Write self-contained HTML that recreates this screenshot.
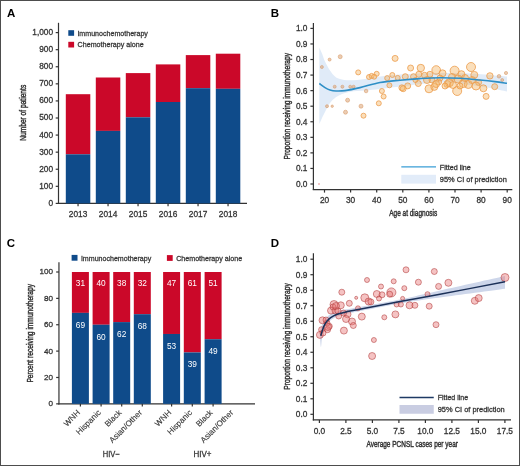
<!DOCTYPE html>
<html><head><meta charset="utf-8"><style>
html,body{margin:0;padding:0;background:#fff;overflow:hidden;}
svg{display:block;font-family:"Liberation Sans",sans-serif;will-change:transform;}
</style></head><body>
<svg width="520" height="466" viewBox="0 0 520 466">
<rect width="520" height="466" fill="#fff"/>
<rect x="0.5" y="0.5" width="519" height="465" fill="none" stroke="#4d4d4d" stroke-width="1"/>
<text x="6.9" y="16.5" font-size="11.5" font-weight="bold" fill="#000">A</text>
<text x="270.7" y="16.7" font-size="11.5" font-weight="bold" fill="#000">B</text>
<text x="6.8" y="247.4" font-size="11.5" font-weight="bold" fill="#000">C</text>
<text x="270.7" y="247.4" font-size="11.5" font-weight="bold" fill="#000">D</text>
<line x1="58.50" y1="22.80" x2="58.50" y2="204.00" stroke="#333333" stroke-width="1.2"/>
<line x1="57.90" y1="203.40" x2="247.00" y2="203.40" stroke="#333333" stroke-width="1.2"/>
<line x1="55.70" y1="203.40" x2="58.50" y2="203.40" stroke="#333333" stroke-width="1.2"/>
<text x="53.10" y="205.89" font-size="8.3" text-anchor="end" fill="#333333" stroke="#333333" stroke-width="0.28">0</text>
<line x1="55.70" y1="186.32" x2="58.50" y2="186.32" stroke="#333333" stroke-width="1.2"/>
<text x="53.10" y="188.81" font-size="8.3" text-anchor="end" fill="#333333" stroke="#333333" stroke-width="0.28">100</text>
<line x1="55.70" y1="169.24" x2="58.50" y2="169.24" stroke="#333333" stroke-width="1.2"/>
<text x="53.10" y="171.73" font-size="8.3" text-anchor="end" fill="#333333" stroke="#333333" stroke-width="0.28">200</text>
<line x1="55.70" y1="152.16" x2="58.50" y2="152.16" stroke="#333333" stroke-width="1.2"/>
<text x="53.10" y="154.65" font-size="8.3" text-anchor="end" fill="#333333" stroke="#333333" stroke-width="0.28">300</text>
<line x1="55.70" y1="135.08" x2="58.50" y2="135.08" stroke="#333333" stroke-width="1.2"/>
<text x="53.10" y="137.57" font-size="8.3" text-anchor="end" fill="#333333" stroke="#333333" stroke-width="0.28">400</text>
<line x1="55.70" y1="118.00" x2="58.50" y2="118.00" stroke="#333333" stroke-width="1.2"/>
<text x="53.10" y="120.49" font-size="8.3" text-anchor="end" fill="#333333" stroke="#333333" stroke-width="0.28">500</text>
<line x1="55.70" y1="100.92" x2="58.50" y2="100.92" stroke="#333333" stroke-width="1.2"/>
<text x="53.10" y="103.41" font-size="8.3" text-anchor="end" fill="#333333" stroke="#333333" stroke-width="0.28">600</text>
<line x1="55.70" y1="83.84" x2="58.50" y2="83.84" stroke="#333333" stroke-width="1.2"/>
<text x="53.10" y="86.33" font-size="8.3" text-anchor="end" fill="#333333" stroke="#333333" stroke-width="0.28">700</text>
<line x1="55.70" y1="66.76" x2="58.50" y2="66.76" stroke="#333333" stroke-width="1.2"/>
<text x="53.10" y="69.25" font-size="8.3" text-anchor="end" fill="#333333" stroke="#333333" stroke-width="0.28">800</text>
<line x1="55.70" y1="49.68" x2="58.50" y2="49.68" stroke="#333333" stroke-width="1.2"/>
<text x="53.10" y="52.17" font-size="8.3" text-anchor="end" fill="#333333" stroke="#333333" stroke-width="0.28">900</text>
<line x1="55.70" y1="32.60" x2="58.50" y2="32.60" stroke="#333333" stroke-width="1.2"/>
<text x="53.10" y="35.09" font-size="8.3" text-anchor="end" fill="#333333" stroke="#333333" stroke-width="0.28">1,000</text>
<rect x="65.80" y="94.20" width="24.50" height="60.10" fill="#cb0829"/>
<rect x="65.80" y="154.30" width="24.50" height="49.10" fill="#0f4b8a"/>
<line x1="78.05" y1="203.40" x2="78.05" y2="206.20" stroke="#333333" stroke-width="1.2"/>
<text x="78.05" y="216.91" font-size="8.3" text-anchor="middle" fill="#333333" stroke="#333333" stroke-width="0.28">2013</text>
<rect x="95.80" y="77.50" width="24.50" height="53.40" fill="#cb0829"/>
<rect x="95.80" y="130.90" width="24.50" height="72.50" fill="#0f4b8a"/>
<line x1="108.05" y1="203.40" x2="108.05" y2="206.20" stroke="#333333" stroke-width="1.2"/>
<text x="108.05" y="216.91" font-size="8.3" text-anchor="middle" fill="#333333" stroke="#333333" stroke-width="0.28">2014</text>
<rect x="125.80" y="73.10" width="24.50" height="44.20" fill="#cb0829"/>
<rect x="125.80" y="117.30" width="24.50" height="86.10" fill="#0f4b8a"/>
<line x1="138.05" y1="203.40" x2="138.05" y2="206.20" stroke="#333333" stroke-width="1.2"/>
<text x="138.05" y="216.91" font-size="8.3" text-anchor="middle" fill="#333333" stroke="#333333" stroke-width="0.28">2015</text>
<rect x="155.80" y="64.40" width="24.50" height="37.60" fill="#cb0829"/>
<rect x="155.80" y="102.00" width="24.50" height="101.40" fill="#0f4b8a"/>
<line x1="168.05" y1="203.40" x2="168.05" y2="206.20" stroke="#333333" stroke-width="1.2"/>
<text x="168.05" y="216.91" font-size="8.3" text-anchor="middle" fill="#333333" stroke="#333333" stroke-width="0.28">2016</text>
<rect x="185.80" y="55.10" width="24.50" height="33.10" fill="#cb0829"/>
<rect x="185.80" y="88.20" width="24.50" height="115.20" fill="#0f4b8a"/>
<line x1="198.05" y1="203.40" x2="198.05" y2="206.20" stroke="#333333" stroke-width="1.2"/>
<text x="198.05" y="216.91" font-size="8.3" text-anchor="middle" fill="#333333" stroke="#333333" stroke-width="0.28">2017</text>
<rect x="215.80" y="53.70" width="24.50" height="35.10" fill="#cb0829"/>
<rect x="215.80" y="88.80" width="24.50" height="114.60" fill="#0f4b8a"/>
<line x1="228.05" y1="203.40" x2="228.05" y2="206.20" stroke="#333333" stroke-width="1.2"/>
<text x="228.05" y="216.91" font-size="8.3" text-anchor="middle" fill="#333333" stroke="#333333" stroke-width="0.28">2018</text>
<text transform="translate(25.90,112.80) rotate(-90)" x="0" y="0" font-size="9.4" text-anchor="middle" fill="#333333" stroke="#333333" stroke-width="0.45" textLength="56" lengthAdjust="spacingAndGlyphs">Number of patients</text>
<rect x="68.30" y="30.20" width="5.80" height="5.60" fill="#0f4b8a"/>
<rect x="68.30" y="41.80" width="5.80" height="5.70" fill="#cb0829"/>
<text x="77.40" y="35.70" font-size="7.7" text-anchor="start" fill="#333333" stroke="#333333" stroke-width="0.28" textLength="70.5" lengthAdjust="spacingAndGlyphs">Immunochemotherapy</text>
<text x="77.60" y="47.00" font-size="7.7" text-anchor="start" fill="#333333" stroke="#333333" stroke-width="0.28" textLength="66" lengthAdjust="spacingAndGlyphs">Chemotherapy alone</text>
<line x1="58.95" y1="262.20" x2="58.95" y2="404.45" stroke="#333333" stroke-width="1.2"/>
<line x1="58.35" y1="403.85" x2="255.00" y2="403.85" stroke="#333333" stroke-width="1.2"/>
<line x1="56.15" y1="403.85" x2="58.95" y2="403.85" stroke="#333333" stroke-width="1.2"/>
<text x="53.00" y="406.28" font-size="8.1" text-anchor="end" fill="#333333" stroke="#333333" stroke-width="0.28">0</text>
<line x1="56.15" y1="377.48" x2="58.95" y2="377.48" stroke="#333333" stroke-width="1.2"/>
<text x="53.00" y="379.91" font-size="8.1" text-anchor="end" fill="#333333" stroke="#333333" stroke-width="0.28">20</text>
<line x1="56.15" y1="351.11" x2="58.95" y2="351.11" stroke="#333333" stroke-width="1.2"/>
<text x="53.00" y="353.54" font-size="8.1" text-anchor="end" fill="#333333" stroke="#333333" stroke-width="0.28">40</text>
<line x1="56.15" y1="324.74" x2="58.95" y2="324.74" stroke="#333333" stroke-width="1.2"/>
<text x="53.00" y="327.17" font-size="8.1" text-anchor="end" fill="#333333" stroke="#333333" stroke-width="0.28">60</text>
<line x1="56.15" y1="298.37" x2="58.95" y2="298.37" stroke="#333333" stroke-width="1.2"/>
<text x="53.00" y="300.80" font-size="8.1" text-anchor="end" fill="#333333" stroke="#333333" stroke-width="0.28">80</text>
<line x1="56.15" y1="272.00" x2="58.95" y2="272.00" stroke="#333333" stroke-width="1.2"/>
<text x="53.00" y="274.43" font-size="8.1" text-anchor="end" fill="#333333" stroke="#333333" stroke-width="0.28">100</text>
<rect x="71.90" y="272.00" width="17.00" height="40.87" fill="#cb0829"/>
<rect x="71.90" y="312.87" width="17.00" height="90.98" fill="#0f4b8a"/>
<line x1="80.40" y1="403.85" x2="80.40" y2="406.45" stroke="#333333" stroke-width="1.2"/>
<text x="80.40" y="286.27" font-size="8.3" text-anchor="middle" fill="#fff">31</text>
<text x="80.40" y="327.64" font-size="8.3" text-anchor="middle" fill="#fff">69</text>
<rect x="92.60" y="272.00" width="17.00" height="52.74" fill="#cb0829"/>
<rect x="92.60" y="324.74" width="17.00" height="79.11" fill="#0f4b8a"/>
<line x1="101.10" y1="403.85" x2="101.10" y2="406.45" stroke="#333333" stroke-width="1.2"/>
<text x="101.10" y="286.27" font-size="8.3" text-anchor="middle" fill="#fff">40</text>
<text x="101.10" y="339.51" font-size="8.3" text-anchor="middle" fill="#fff">60</text>
<rect x="113.20" y="272.00" width="17.00" height="50.10" fill="#cb0829"/>
<rect x="113.20" y="322.10" width="17.00" height="81.75" fill="#0f4b8a"/>
<line x1="121.70" y1="403.85" x2="121.70" y2="406.45" stroke="#333333" stroke-width="1.2"/>
<text x="121.70" y="286.27" font-size="8.3" text-anchor="middle" fill="#fff">38</text>
<text x="121.70" y="336.87" font-size="8.3" text-anchor="middle" fill="#fff">62</text>
<rect x="133.80" y="272.00" width="17.00" height="42.19" fill="#cb0829"/>
<rect x="133.80" y="314.19" width="17.00" height="89.66" fill="#0f4b8a"/>
<line x1="142.30" y1="403.85" x2="142.30" y2="406.45" stroke="#333333" stroke-width="1.2"/>
<text x="142.30" y="286.27" font-size="8.3" text-anchor="middle" fill="#fff">32</text>
<text x="142.30" y="328.96" font-size="8.3" text-anchor="middle" fill="#fff">68</text>
<rect x="163.10" y="272.00" width="17.00" height="61.97" fill="#cb0829"/>
<rect x="163.10" y="333.97" width="17.00" height="69.88" fill="#0f4b8a"/>
<line x1="171.60" y1="403.85" x2="171.60" y2="406.45" stroke="#333333" stroke-width="1.2"/>
<text x="171.60" y="286.27" font-size="8.3" text-anchor="middle" fill="#fff">47</text>
<text x="171.60" y="348.74" font-size="8.3" text-anchor="middle" fill="#fff">53</text>
<rect x="183.80" y="272.00" width="17.00" height="80.43" fill="#cb0829"/>
<rect x="183.80" y="352.43" width="17.00" height="51.42" fill="#0f4b8a"/>
<line x1="192.30" y1="403.85" x2="192.30" y2="406.45" stroke="#333333" stroke-width="1.2"/>
<text x="192.30" y="286.27" font-size="8.3" text-anchor="middle" fill="#fff">61</text>
<text x="192.30" y="367.20" font-size="8.3" text-anchor="middle" fill="#fff">39</text>
<rect x="204.60" y="272.00" width="17.00" height="67.24" fill="#cb0829"/>
<rect x="204.60" y="339.24" width="17.00" height="64.61" fill="#0f4b8a"/>
<line x1="213.10" y1="403.85" x2="213.10" y2="406.45" stroke="#333333" stroke-width="1.2"/>
<text x="213.10" y="286.27" font-size="8.3" text-anchor="middle" fill="#fff">51</text>
<text x="213.10" y="354.01" font-size="8.3" text-anchor="middle" fill="#fff">49</text>
<text transform="translate(80.60,413.20) rotate(-45)" x="0" y="0" font-size="8.1" text-anchor="end" fill="#333333" stroke="#333333" stroke-width="0.1">WNH</text>
<text transform="translate(101.30,413.20) rotate(-45)" x="0" y="0" font-size="8.1" text-anchor="end" fill="#333333" stroke="#333333" stroke-width="0.1">Hispanic</text>
<text transform="translate(122.00,413.20) rotate(-45)" x="0" y="0" font-size="8.1" text-anchor="end" fill="#333333" stroke="#333333" stroke-width="0.1">Black</text>
<text transform="translate(142.70,413.20) rotate(-45)" x="0" y="0" font-size="8.1" text-anchor="end" fill="#333333" stroke="#333333" stroke-width="0.1">Asian/Other</text>
<text transform="translate(171.80,413.20) rotate(-45)" x="0" y="0" font-size="8.1" text-anchor="end" fill="#333333" stroke="#333333" stroke-width="0.1">WNH</text>
<text transform="translate(192.50,413.20) rotate(-45)" x="0" y="0" font-size="8.1" text-anchor="end" fill="#333333" stroke="#333333" stroke-width="0.1">Hispanic</text>
<text transform="translate(213.20,413.20) rotate(-45)" x="0" y="0" font-size="8.1" text-anchor="end" fill="#333333" stroke="#333333" stroke-width="0.1">Black</text>
<text transform="translate(233.90,413.20) rotate(-45)" x="0" y="0" font-size="8.1" text-anchor="end" fill="#333333" stroke="#333333" stroke-width="0.1">Asian/Other</text>
<text x="111.30" y="457.10" font-size="8.5" text-anchor="middle" fill="#333333" stroke="#333333" stroke-width="0.28" textLength="17" lengthAdjust="spacingAndGlyphs">HIV−</text>
<text x="202.50" y="457.10" font-size="8.5" text-anchor="middle" fill="#333333" stroke="#333333" stroke-width="0.28" textLength="18" lengthAdjust="spacingAndGlyphs">HIV+</text>
<text transform="translate(32.60,333.30) rotate(-90)" x="0" y="0" font-size="9.4" text-anchor="middle" fill="#333333" stroke="#333333" stroke-width="0.45" textLength="98.6" lengthAdjust="spacingAndGlyphs">Percent receiving immunotherapy</text>
<rect x="71.60" y="254.90" width="5.90" height="5.80" fill="#0f4b8a"/>
<rect x="166.90" y="255.10" width="5.80" height="5.80" fill="#cb0829"/>
<text x="80.90" y="260.50" font-size="7.7" text-anchor="start" fill="#333333" stroke="#333333" stroke-width="0.28" textLength="70.4" lengthAdjust="spacingAndGlyphs">Immunochemotherapy</text>
<text x="176.20" y="260.50" font-size="7.7" text-anchor="start" fill="#333333" stroke="#333333" stroke-width="0.28" textLength="66" lengthAdjust="spacingAndGlyphs">Chemotherapy alone</text>
<path d="M319.30,47.50 C319.75,48.50 321.05,51.17 322.00,53.50 C322.95,55.83 323.67,58.67 325.00,61.50 C326.33,64.33 328.33,68.00 330.00,70.50 C331.67,73.00 333.33,75.08 335.00,76.50 C336.67,77.92 337.50,78.37 340.00,79.00 C342.50,79.63 345.83,80.30 350.00,80.30 C354.17,80.30 360.00,79.63 365.00,79.00 C370.00,78.37 374.17,77.25 380.00,76.50 C385.83,75.75 390.00,75.08 400.00,74.50 C410.00,73.92 428.33,73.17 440.00,73.00 C451.67,72.83 461.67,73.17 470.00,73.50 C478.33,73.83 483.83,74.50 490.00,75.00 C496.17,75.50 504.17,76.25 507.00,76.50 L507.00,91.50 C504.17,90.92 496.17,89.08 490.00,88.00 C483.83,86.92 478.33,85.92 470.00,85.00 C461.67,84.08 451.67,82.25 440.00,82.50 C428.33,82.75 410.00,85.42 400.00,86.50 C390.00,87.58 385.83,88.33 380.00,89.00 C374.17,89.67 370.00,90.03 365.00,90.50 C360.00,90.97 354.17,91.05 350.00,91.80 C345.83,92.55 342.50,93.97 340.00,95.00 C337.50,96.03 336.67,96.67 335.00,98.00 C333.33,99.33 331.67,100.67 330.00,103.00 C328.33,105.33 326.33,109.50 325.00,112.00 C323.67,114.50 322.95,116.00 322.00,118.00 C321.05,120.00 319.75,123.00 319.30,124.00 Z" fill="#e0ebf8"/>
<line x1="313.40" y1="22.90" x2="313.40" y2="190.10" stroke="#333333" stroke-width="1.2"/>
<line x1="312.80" y1="189.60" x2="512.30" y2="189.60" stroke="#333333" stroke-width="1.2"/>
<line x1="310.40" y1="184.00" x2="313.40" y2="184.00" stroke="#333333" stroke-width="1.2"/>
<text x="307.50" y="186.91" font-size="8.3" text-anchor="end" fill="#333333" stroke="#333333" stroke-width="0.28">0.0</text>
<line x1="310.40" y1="168.44" x2="313.40" y2="168.44" stroke="#333333" stroke-width="1.2"/>
<text x="307.50" y="171.34" font-size="8.3" text-anchor="end" fill="#333333" stroke="#333333" stroke-width="0.28">0.1</text>
<line x1="310.40" y1="152.88" x2="313.40" y2="152.88" stroke="#333333" stroke-width="1.2"/>
<text x="307.50" y="155.78" font-size="8.3" text-anchor="end" fill="#333333" stroke="#333333" stroke-width="0.28">0.2</text>
<line x1="310.40" y1="137.32" x2="313.40" y2="137.32" stroke="#333333" stroke-width="1.2"/>
<text x="307.50" y="140.22" font-size="8.3" text-anchor="end" fill="#333333" stroke="#333333" stroke-width="0.28">0.3</text>
<line x1="310.40" y1="121.76" x2="313.40" y2="121.76" stroke="#333333" stroke-width="1.2"/>
<text x="307.50" y="124.67" font-size="8.3" text-anchor="end" fill="#333333" stroke="#333333" stroke-width="0.28">0.4</text>
<line x1="310.40" y1="106.20" x2="313.40" y2="106.20" stroke="#333333" stroke-width="1.2"/>
<text x="307.50" y="109.11" font-size="8.3" text-anchor="end" fill="#333333" stroke="#333333" stroke-width="0.28">0.5</text>
<line x1="310.40" y1="90.64" x2="313.40" y2="90.64" stroke="#333333" stroke-width="1.2"/>
<text x="307.50" y="93.55" font-size="8.3" text-anchor="end" fill="#333333" stroke="#333333" stroke-width="0.28">0.6</text>
<line x1="310.40" y1="75.08" x2="313.40" y2="75.08" stroke="#333333" stroke-width="1.2"/>
<text x="307.50" y="77.98" font-size="8.3" text-anchor="end" fill="#333333" stroke="#333333" stroke-width="0.28">0.7</text>
<line x1="310.40" y1="59.52" x2="313.40" y2="59.52" stroke="#333333" stroke-width="1.2"/>
<text x="307.50" y="62.43" font-size="8.3" text-anchor="end" fill="#333333" stroke="#333333" stroke-width="0.28">0.8</text>
<line x1="310.40" y1="43.96" x2="313.40" y2="43.96" stroke="#333333" stroke-width="1.2"/>
<text x="307.50" y="46.87" font-size="8.3" text-anchor="end" fill="#333333" stroke="#333333" stroke-width="0.28">0.9</text>
<line x1="310.40" y1="28.40" x2="313.40" y2="28.40" stroke="#333333" stroke-width="1.2"/>
<text x="307.50" y="31.31" font-size="8.3" text-anchor="end" fill="#333333" stroke="#333333" stroke-width="0.28">1.0</text>
<line x1="324.50" y1="189.60" x2="324.50" y2="192.60" stroke="#333333" stroke-width="1.2"/>
<text x="324.50" y="202.91" font-size="8.3" text-anchor="middle" fill="#333333" stroke="#333333" stroke-width="0.28">20</text>
<line x1="350.60" y1="189.60" x2="350.60" y2="192.60" stroke="#333333" stroke-width="1.2"/>
<text x="350.60" y="202.91" font-size="8.3" text-anchor="middle" fill="#333333" stroke="#333333" stroke-width="0.28">30</text>
<line x1="376.70" y1="189.60" x2="376.70" y2="192.60" stroke="#333333" stroke-width="1.2"/>
<text x="376.70" y="202.91" font-size="8.3" text-anchor="middle" fill="#333333" stroke="#333333" stroke-width="0.28">40</text>
<line x1="402.80" y1="189.60" x2="402.80" y2="192.60" stroke="#333333" stroke-width="1.2"/>
<text x="402.80" y="202.91" font-size="8.3" text-anchor="middle" fill="#333333" stroke="#333333" stroke-width="0.28">50</text>
<line x1="428.90" y1="189.60" x2="428.90" y2="192.60" stroke="#333333" stroke-width="1.2"/>
<text x="428.90" y="202.91" font-size="8.3" text-anchor="middle" fill="#333333" stroke="#333333" stroke-width="0.28">60</text>
<line x1="455.00" y1="189.60" x2="455.00" y2="192.60" stroke="#333333" stroke-width="1.2"/>
<text x="455.00" y="202.91" font-size="8.3" text-anchor="middle" fill="#333333" stroke="#333333" stroke-width="0.28">70</text>
<line x1="481.10" y1="189.60" x2="481.10" y2="192.60" stroke="#333333" stroke-width="1.2"/>
<text x="481.10" y="202.91" font-size="8.3" text-anchor="middle" fill="#333333" stroke="#333333" stroke-width="0.28">80</text>
<line x1="507.20" y1="189.60" x2="507.20" y2="192.60" stroke="#333333" stroke-width="1.2"/>
<text x="507.20" y="202.91" font-size="8.3" text-anchor="middle" fill="#333333" stroke="#333333" stroke-width="0.28">90</text>
<text transform="translate(290.10,106.20) rotate(-90)" x="0" y="0" font-size="9.4" text-anchor="middle" fill="#333333" stroke="#333333" stroke-width="0.45" textLength="106.5" lengthAdjust="spacingAndGlyphs">Proportion receiving immunotherapy</text>
<text x="413.20" y="216.20" font-size="9.4" text-anchor="middle" fill="#333333" stroke="#333333" stroke-width="0.45" textLength="48" lengthAdjust="spacingAndGlyphs">Age at diagnosis</text>
<line x1="401.30" y1="166.90" x2="436.00" y2="166.90" stroke="#3a9ed6" stroke-width="1.3"/>
<rect x="401.30" y="174.80" width="34.70" height="8.80" fill="#e2ecf9"/>
<text x="439.80" y="169.70" font-size="7.5" text-anchor="start" fill="#333333" stroke="#333333" stroke-width="0.28" textLength="31" lengthAdjust="spacingAndGlyphs">Fitted line</text>
<text x="439.80" y="181.60" font-size="7.5" text-anchor="start" fill="#333333" stroke="#333333" stroke-width="0.28" textLength="67" lengthAdjust="spacingAndGlyphs">95% CI of prediction</text>
<circle cx="321.9" cy="67" r="1.5" fill="rgba(215,155,105,0.5)" stroke="rgba(215,150,95,0.75)" stroke-width="0.7"/>
<circle cx="329.6" cy="59.6" r="1.5" fill="rgba(215,155,105,0.5)" stroke="rgba(215,150,95,0.75)" stroke-width="0.7"/>
<circle cx="340.2" cy="56.7" r="2" fill="rgba(215,155,105,0.5)" stroke="rgba(215,150,95,0.75)" stroke-width="0.7"/>
<circle cx="358.2" cy="72.4" r="2.5" fill="rgba(244,178,95,0.42)" stroke="rgba(236,156,76,0.88)" stroke-width="0.9"/>
<circle cx="369" cy="77" r="2.5" fill="rgba(244,178,95,0.42)" stroke="rgba(236,156,76,0.88)" stroke-width="0.9"/>
<circle cx="371.6" cy="75.9" r="2.5" fill="rgba(244,178,95,0.42)" stroke="rgba(236,156,76,0.88)" stroke-width="0.9"/>
<circle cx="374.2" cy="76.7" r="2.5" fill="rgba(244,178,95,0.42)" stroke="rgba(236,156,76,0.88)" stroke-width="0.9"/>
<circle cx="376.7" cy="73.8" r="2.5" fill="rgba(244,178,95,0.42)" stroke="rgba(236,156,76,0.88)" stroke-width="0.9"/>
<circle cx="334.7" cy="86.7" r="1.5" fill="rgba(215,155,105,0.5)" stroke="rgba(215,150,95,0.75)" stroke-width="0.7"/>
<circle cx="342.4" cy="86.7" r="1.5" fill="rgba(215,155,105,0.5)" stroke="rgba(215,150,95,0.75)" stroke-width="0.7"/>
<circle cx="350.2" cy="86.7" r="1.5" fill="rgba(215,155,105,0.5)" stroke="rgba(215,150,95,0.75)" stroke-width="0.7"/>
<circle cx="353.6" cy="86.7" r="1.5" fill="rgba(215,155,105,0.5)" stroke="rgba(215,150,95,0.75)" stroke-width="0.7"/>
<circle cx="366.1" cy="91" r="1.8" fill="rgba(215,155,105,0.5)" stroke="rgba(215,150,95,0.75)" stroke-width="0.7"/>
<circle cx="381.9" cy="91" r="2.5" fill="rgba(244,178,95,0.42)" stroke="rgba(236,156,76,0.88)" stroke-width="0.9"/>
<circle cx="383.6" cy="96.5" r="2.5" fill="rgba(244,178,95,0.42)" stroke="rgba(236,156,76,0.88)" stroke-width="0.9"/>
<circle cx="347.6" cy="100.2" r="2" fill="rgba(215,155,105,0.5)" stroke="rgba(215,150,95,0.75)" stroke-width="0.7"/>
<circle cx="361" cy="106.2" r="2" fill="rgba(215,155,105,0.5)" stroke="rgba(215,150,95,0.75)" stroke-width="0.7"/>
<circle cx="327" cy="106.2" r="1.5" fill="rgba(215,155,105,0.5)" stroke="rgba(215,150,95,0.75)" stroke-width="0.7"/>
<circle cx="332.2" cy="106.2" r="1.2" fill="rgba(215,155,105,0.5)" stroke="rgba(215,150,95,0.75)" stroke-width="0.7"/>
<circle cx="378.8" cy="103.3" r="2.5" fill="rgba(244,178,95,0.42)" stroke="rgba(236,156,76,0.88)" stroke-width="0.9"/>
<circle cx="345.5" cy="112.2" r="2" fill="rgba(215,155,105,0.5)" stroke="rgba(215,150,95,0.75)" stroke-width="0.7"/>
<circle cx="363.5" cy="115.7" r="2.5" fill="rgba(244,178,95,0.42)" stroke="rgba(236,156,76,0.88)" stroke-width="0.9"/>
<circle cx="395.1" cy="58.4" r="3" fill="rgba(244,178,95,0.42)" stroke="rgba(236,156,76,0.88)" stroke-width="0.9"/>
<circle cx="410.6" cy="68" r="3" fill="rgba(244,178,95,0.42)" stroke="rgba(236,156,76,0.88)" stroke-width="0.9"/>
<circle cx="420.8" cy="68" r="3.7" fill="rgba(244,178,95,0.42)" stroke="rgba(236,156,76,0.88)" stroke-width="0.9"/>
<circle cx="436.2" cy="70" r="4.3" fill="rgba(244,178,95,0.42)" stroke="rgba(236,156,76,0.88)" stroke-width="0.9"/>
<circle cx="387.2" cy="78.1" r="2.5" fill="rgba(244,178,95,0.42)" stroke="rgba(236,156,76,0.88)" stroke-width="0.9"/>
<circle cx="392.3" cy="75" r="2.5" fill="rgba(244,178,95,0.42)" stroke="rgba(236,156,76,0.88)" stroke-width="0.9"/>
<circle cx="397.7" cy="77.9" r="2.5" fill="rgba(244,178,95,0.42)" stroke="rgba(236,156,76,0.88)" stroke-width="0.9"/>
<circle cx="405.3" cy="76.7" r="3" fill="rgba(244,178,95,0.42)" stroke="rgba(236,156,76,0.88)" stroke-width="0.9"/>
<circle cx="413.5" cy="76.7" r="3" fill="rgba(244,178,95,0.42)" stroke="rgba(236,156,76,0.88)" stroke-width="0.9"/>
<circle cx="418.8" cy="74.3" r="3" fill="rgba(244,178,95,0.42)" stroke="rgba(236,156,76,0.88)" stroke-width="0.9"/>
<circle cx="424.6" cy="75.3" r="3" fill="rgba(244,178,95,0.42)" stroke="rgba(236,156,76,0.88)" stroke-width="0.9"/>
<circle cx="429.9" cy="74.3" r="3" fill="rgba(244,178,95,0.42)" stroke="rgba(236,156,76,0.88)" stroke-width="0.9"/>
<circle cx="442.5" cy="73.3" r="3.5" fill="rgba(244,178,95,0.42)" stroke="rgba(236,156,76,0.88)" stroke-width="0.9"/>
<circle cx="418.3" cy="83.5" r="3" fill="rgba(244,178,95,0.42)" stroke="rgba(236,156,76,0.88)" stroke-width="0.9"/>
<circle cx="407.7" cy="85.9" r="3" fill="rgba(244,178,95,0.42)" stroke="rgba(236,156,76,0.88)" stroke-width="0.9"/>
<circle cx="401.9" cy="87.8" r="3" fill="rgba(244,178,95,0.42)" stroke="rgba(236,156,76,0.88)" stroke-width="0.9"/>
<circle cx="429" cy="88.8" r="4" fill="rgba(244,178,95,0.42)" stroke="rgba(236,156,76,0.88)" stroke-width="0.9"/>
<circle cx="434.3" cy="86.9" r="3.5" fill="rgba(244,178,95,0.42)" stroke="rgba(236,156,76,0.88)" stroke-width="0.9"/>
<circle cx="438.6" cy="82" r="3" fill="rgba(244,178,95,0.42)" stroke="rgba(236,156,76,0.88)" stroke-width="0.9"/>
<circle cx="447.3" cy="84" r="3.5" fill="rgba(244,178,95,0.42)" stroke="rgba(236,156,76,0.88)" stroke-width="0.9"/>
<circle cx="415.4" cy="80" r="2.5" fill="rgba(244,178,95,0.42)" stroke="rgba(236,156,76,0.88)" stroke-width="0.9"/>
<circle cx="389.4" cy="85.3" r="2.5" fill="rgba(244,178,95,0.42)" stroke="rgba(236,156,76,0.88)" stroke-width="0.9"/>
<circle cx="403.2" cy="88.7" r="3" fill="rgba(244,178,95,0.42)" stroke="rgba(236,156,76,0.88)" stroke-width="0.9"/>
<circle cx="471" cy="67" r="4.5" fill="rgba(244,178,95,0.42)" stroke="rgba(236,156,76,0.88)" stroke-width="0.9"/>
<circle cx="454.6" cy="70.7" r="4.5" fill="rgba(244,178,95,0.42)" stroke="rgba(236,156,76,0.88)" stroke-width="0.9"/>
<circle cx="461.4" cy="74.2" r="3.5" fill="rgba(244,178,95,0.42)" stroke="rgba(236,156,76,0.88)" stroke-width="0.9"/>
<circle cx="474.3" cy="74.9" r="3.5" fill="rgba(244,178,95,0.42)" stroke="rgba(236,156,76,0.88)" stroke-width="0.9"/>
<circle cx="449.4" cy="82.7" r="4" fill="rgba(244,178,95,0.42)" stroke="rgba(236,156,76,0.88)" stroke-width="0.9"/>
<circle cx="457.2" cy="91" r="4.5" fill="rgba(244,178,95,0.42)" stroke="rgba(236,156,76,0.88)" stroke-width="0.9"/>
<circle cx="463.2" cy="83.6" r="4" fill="rgba(244,178,95,0.42)" stroke="rgba(236,156,76,0.88)" stroke-width="0.9"/>
<circle cx="468.3" cy="84.5" r="4" fill="rgba(244,178,95,0.42)" stroke="rgba(236,156,76,0.88)" stroke-width="0.9"/>
<circle cx="478.6" cy="82.4" r="3" fill="rgba(244,178,95,0.42)" stroke="rgba(236,156,76,0.88)" stroke-width="0.9"/>
<circle cx="483.4" cy="88.3" r="3.5" fill="rgba(244,178,95,0.42)" stroke="rgba(236,156,76,0.88)" stroke-width="0.9"/>
<circle cx="486.1" cy="96.4" r="3" fill="rgba(244,178,95,0.42)" stroke="rgba(236,156,76,0.88)" stroke-width="0.9"/>
<circle cx="489.9" cy="75.9" r="3.2" fill="rgba(244,178,95,0.42)" stroke="rgba(236,156,76,0.88)" stroke-width="0.9"/>
<circle cx="494.7" cy="86.7" r="3" fill="rgba(244,178,95,0.42)" stroke="rgba(236,156,76,0.88)" stroke-width="0.9"/>
<circle cx="499" cy="76.3" r="1.8" fill="rgba(215,155,105,0.5)" stroke="rgba(215,150,95,0.75)" stroke-width="0.7"/>
<circle cx="502.2" cy="80" r="1.5" fill="rgba(215,155,105,0.5)" stroke="rgba(215,150,95,0.75)" stroke-width="0.7"/>
<circle cx="506" cy="73" r="1.6" fill="rgba(215,155,105,0.5)" stroke="rgba(215,150,95,0.75)" stroke-width="0.7"/>
<circle cx="427" cy="80" r="3.5" fill="rgba(244,178,95,0.42)" stroke="rgba(236,156,76,0.88)" stroke-width="0.9"/>
<circle cx="440" cy="78" r="3" fill="rgba(244,178,95,0.42)" stroke="rgba(236,156,76,0.88)" stroke-width="0.9"/>
<circle cx="452" cy="77" r="3.5" fill="rgba(244,178,95,0.42)" stroke="rgba(236,156,76,0.88)" stroke-width="0.9"/>
<circle cx="458" cy="79" r="4" fill="rgba(244,178,95,0.42)" stroke="rgba(236,156,76,0.88)" stroke-width="0.9"/>
<circle cx="465" cy="78" r="3.5" fill="rgba(244,178,95,0.42)" stroke="rgba(236,156,76,0.88)" stroke-width="0.9"/>
<circle cx="472" cy="80" r="3.5" fill="rgba(244,178,95,0.42)" stroke="rgba(236,156,76,0.88)" stroke-width="0.9"/>
<circle cx="445" cy="86" r="3" fill="rgba(244,178,95,0.42)" stroke="rgba(236,156,76,0.88)" stroke-width="0.9"/>
<circle cx="460" cy="86" r="3" fill="rgba(244,178,95,0.42)" stroke="rgba(236,156,76,0.88)" stroke-width="0.9"/>
<circle cx="432" cy="80" r="3" fill="rgba(244,178,95,0.42)" stroke="rgba(236,156,76,0.88)" stroke-width="0.9"/>
<circle cx="476" cy="86" r="4" fill="rgba(244,178,95,0.42)" stroke="rgba(236,156,76,0.88)" stroke-width="0.9"/>
<circle cx="453" cy="85" r="3.5" fill="rgba(244,178,95,0.42)" stroke="rgba(236,156,76,0.88)" stroke-width="0.9"/>
<circle cx="436" cy="84" r="3.5" fill="rgba(244,178,95,0.42)" stroke="rgba(236,156,76,0.88)" stroke-width="0.9"/>
<circle cx="319" cy="184" r="0.8" fill="#e08080"/>
<path d="M319.30,83.50 C320.25,84.18 323.22,86.52 325.00,87.60 C326.78,88.68 328.17,89.43 330.00,90.00 C331.83,90.57 333.50,90.90 336.00,91.00 C338.50,91.10 341.00,91.17 345.00,90.60 C349.00,90.03 354.17,88.95 360.00,87.60 C365.83,86.25 373.33,83.73 380.00,82.50 C386.67,81.27 393.33,80.85 400.00,80.20 C406.67,79.55 413.33,79.02 420.00,78.60 C426.67,78.18 433.33,77.75 440.00,77.70 C446.67,77.65 453.33,77.92 460.00,78.30 C466.67,78.68 474.17,79.45 480.00,80.00 C485.83,80.55 490.50,81.05 495.00,81.60 C499.50,82.15 505.00,83.02 507.00,83.30" fill="none" stroke="#2e8fc6" stroke-width="1.6"/>
<path d="M320.50,330.00 C320.75,329.17 321.33,326.67 322.00,325.00 C322.67,323.33 323.58,321.42 324.50,320.00 C325.42,318.58 326.42,317.50 327.50,316.50 C328.58,315.50 329.42,314.83 331.00,314.00 C332.58,313.17 334.83,312.20 337.00,311.50 C339.17,310.80 341.33,310.35 344.00,309.80 C346.67,309.25 343.67,309.92 353.00,308.20 C362.33,306.48 385.50,302.45 400.00,299.50 C414.50,296.55 422.50,294.42 440.00,290.50 C457.50,286.58 494.17,278.42 505.00,276.00 L505.00,288.80 C494.17,290.27 457.50,295.15 440.00,297.60 C422.50,300.05 414.50,301.02 400.00,303.50 C385.50,305.98 362.33,310.67 353.00,312.50 C343.67,314.33 346.67,313.83 344.00,314.50 C341.33,315.17 339.17,315.58 337.00,316.50 C334.83,317.42 332.67,318.75 331.00,320.00 C329.33,321.25 328.17,322.33 327.00,324.00 C325.83,325.67 324.83,327.67 324.00,330.00 C323.17,332.33 322.50,335.17 322.00,338.00 C321.50,340.83 321.30,346.67 321.00,347.00 C320.70,347.33 320.33,341.17 320.20,340.00 Z" fill="#cdd6ea"/>
<line x1="313.40" y1="253.20" x2="313.40" y2="420.40" stroke="#333333" stroke-width="1.2"/>
<line x1="312.80" y1="419.90" x2="511.00" y2="419.90" stroke="#333333" stroke-width="1.2"/>
<line x1="310.40" y1="414.30" x2="313.40" y2="414.30" stroke="#333333" stroke-width="1.2"/>
<text x="307.40" y="417.20" font-size="8.3" text-anchor="end" fill="#333333" stroke="#333333" stroke-width="0.28">0.0</text>
<line x1="310.40" y1="398.79" x2="313.40" y2="398.79" stroke="#333333" stroke-width="1.2"/>
<text x="307.40" y="401.69" font-size="8.3" text-anchor="end" fill="#333333" stroke="#333333" stroke-width="0.28">0.1</text>
<line x1="310.40" y1="383.28" x2="313.40" y2="383.28" stroke="#333333" stroke-width="1.2"/>
<text x="307.40" y="386.19" font-size="8.3" text-anchor="end" fill="#333333" stroke="#333333" stroke-width="0.28">0.2</text>
<line x1="310.40" y1="367.77" x2="313.40" y2="367.77" stroke="#333333" stroke-width="1.2"/>
<text x="307.40" y="370.68" font-size="8.3" text-anchor="end" fill="#333333" stroke="#333333" stroke-width="0.28">0.3</text>
<line x1="310.40" y1="352.26" x2="313.40" y2="352.26" stroke="#333333" stroke-width="1.2"/>
<text x="307.40" y="355.16" font-size="8.3" text-anchor="end" fill="#333333" stroke="#333333" stroke-width="0.28">0.4</text>
<line x1="310.40" y1="336.75" x2="313.40" y2="336.75" stroke="#333333" stroke-width="1.2"/>
<text x="307.40" y="339.65" font-size="8.3" text-anchor="end" fill="#333333" stroke="#333333" stroke-width="0.28">0.5</text>
<line x1="310.40" y1="321.24" x2="313.40" y2="321.24" stroke="#333333" stroke-width="1.2"/>
<text x="307.40" y="324.14" font-size="8.3" text-anchor="end" fill="#333333" stroke="#333333" stroke-width="0.28">0.6</text>
<line x1="310.40" y1="305.73" x2="313.40" y2="305.73" stroke="#333333" stroke-width="1.2"/>
<text x="307.40" y="308.63" font-size="8.3" text-anchor="end" fill="#333333" stroke="#333333" stroke-width="0.28">0.7</text>
<line x1="310.40" y1="290.22" x2="313.40" y2="290.22" stroke="#333333" stroke-width="1.2"/>
<text x="307.40" y="293.12" font-size="8.3" text-anchor="end" fill="#333333" stroke="#333333" stroke-width="0.28">0.8</text>
<line x1="310.40" y1="274.71" x2="313.40" y2="274.71" stroke="#333333" stroke-width="1.2"/>
<text x="307.40" y="277.62" font-size="8.3" text-anchor="end" fill="#333333" stroke="#333333" stroke-width="0.28">0.9</text>
<line x1="310.40" y1="259.20" x2="313.40" y2="259.20" stroke="#333333" stroke-width="1.2"/>
<text x="307.40" y="262.11" font-size="8.3" text-anchor="end" fill="#333333" stroke="#333333" stroke-width="0.28">1.0</text>
<line x1="319.40" y1="419.90" x2="319.40" y2="422.90" stroke="#333333" stroke-width="1.2"/>
<text x="319.40" y="433.90" font-size="8.3" text-anchor="middle" fill="#333333" stroke="#333333" stroke-width="0.28">0.0</text>
<line x1="345.90" y1="419.90" x2="345.90" y2="422.90" stroke="#333333" stroke-width="1.2"/>
<text x="345.90" y="433.90" font-size="8.3" text-anchor="middle" fill="#333333" stroke="#333333" stroke-width="0.28">2.5</text>
<line x1="372.40" y1="419.90" x2="372.40" y2="422.90" stroke="#333333" stroke-width="1.2"/>
<text x="372.40" y="433.90" font-size="8.3" text-anchor="middle" fill="#333333" stroke="#333333" stroke-width="0.28">5.0</text>
<line x1="398.90" y1="419.90" x2="398.90" y2="422.90" stroke="#333333" stroke-width="1.2"/>
<text x="398.90" y="433.90" font-size="8.3" text-anchor="middle" fill="#333333" stroke="#333333" stroke-width="0.28">7.5</text>
<line x1="425.40" y1="419.90" x2="425.40" y2="422.90" stroke="#333333" stroke-width="1.2"/>
<text x="425.40" y="433.90" font-size="8.3" text-anchor="middle" fill="#333333" stroke="#333333" stroke-width="0.28">10.0</text>
<line x1="451.90" y1="419.90" x2="451.90" y2="422.90" stroke="#333333" stroke-width="1.2"/>
<text x="451.90" y="433.90" font-size="8.3" text-anchor="middle" fill="#333333" stroke="#333333" stroke-width="0.28">12.5</text>
<line x1="478.40" y1="419.90" x2="478.40" y2="422.90" stroke="#333333" stroke-width="1.2"/>
<text x="478.40" y="433.90" font-size="8.3" text-anchor="middle" fill="#333333" stroke="#333333" stroke-width="0.28">15.0</text>
<line x1="504.90" y1="419.90" x2="504.90" y2="422.90" stroke="#333333" stroke-width="1.2"/>
<text x="504.90" y="433.90" font-size="8.3" text-anchor="middle" fill="#333333" stroke="#333333" stroke-width="0.28">17.5</text>
<text transform="translate(290.10,336.50) rotate(-90)" x="0" y="0" font-size="9.4" text-anchor="middle" fill="#333333" stroke="#333333" stroke-width="0.45" textLength="106.5" lengthAdjust="spacingAndGlyphs">Proportion receiving immunotherapy</text>
<text x="412.20" y="446.50" font-size="9.4" text-anchor="middle" fill="#333333" stroke="#333333" stroke-width="0.45" textLength="91.5" lengthAdjust="spacingAndGlyphs">Average PCNSL cases per year</text>
<line x1="399.50" y1="397.50" x2="433.75" y2="397.50" stroke="#1e3a64" stroke-width="1.6"/>
<rect x="399.50" y="405.00" width="34.25" height="8.75" fill="#c9cde2"/>
<text x="437.70" y="400.00" font-size="7.5" text-anchor="start" fill="#333333" stroke="#333333" stroke-width="0.28" textLength="30.5" lengthAdjust="spacingAndGlyphs">Fitted line</text>
<text x="437.70" y="412.00" font-size="7.5" text-anchor="start" fill="#333333" stroke="#333333" stroke-width="0.28" textLength="67" lengthAdjust="spacingAndGlyphs">95% CI of prediction</text>
<circle cx="367" cy="280" r="2.5" fill="rgba(232,122,122,0.45)" stroke="rgba(175,55,55,0.6)" stroke-width="0.9"/>
<circle cx="381" cy="286.5" r="2.5" fill="rgba(232,122,122,0.45)" stroke="rgba(175,55,55,0.6)" stroke-width="0.9"/>
<circle cx="341.8" cy="292.2" r="3" fill="rgba(232,122,122,0.45)" stroke="rgba(175,55,55,0.6)" stroke-width="0.9"/>
<circle cx="356.2" cy="297.8" r="1.5" fill="rgba(232,122,122,0.45)" stroke="rgba(175,55,55,0.6)" stroke-width="0.9"/>
<circle cx="364.8" cy="297.8" r="4" fill="rgba(232,122,122,0.45)" stroke="rgba(175,55,55,0.6)" stroke-width="0.9"/>
<circle cx="368.6" cy="301.5" r="3.5" fill="rgba(232,122,122,0.45)" stroke="rgba(175,55,55,0.6)" stroke-width="0.9"/>
<circle cx="376.8" cy="294" r="3.5" fill="rgba(232,122,122,0.45)" stroke="rgba(175,55,55,0.6)" stroke-width="0.9"/>
<circle cx="382" cy="294.8" r="3" fill="rgba(232,122,122,0.45)" stroke="rgba(175,55,55,0.6)" stroke-width="0.9"/>
<circle cx="379" cy="298.5" r="2.5" fill="rgba(232,122,122,0.45)" stroke="rgba(175,55,55,0.6)" stroke-width="0.9"/>
<circle cx="349.3" cy="303.3" r="3" fill="rgba(232,122,122,0.45)" stroke="rgba(175,55,55,0.6)" stroke-width="0.9"/>
<circle cx="334" cy="304.5" r="4" fill="rgba(232,122,122,0.45)" stroke="rgba(175,55,55,0.6)" stroke-width="0.9"/>
<circle cx="340.8" cy="305.3" r="3.5" fill="rgba(232,122,122,0.45)" stroke="rgba(175,55,55,0.6)" stroke-width="0.9"/>
<circle cx="331" cy="310.6" r="3.5" fill="rgba(232,122,122,0.45)" stroke="rgba(175,55,55,0.6)" stroke-width="0.9"/>
<circle cx="335.5" cy="310.6" r="3.5" fill="rgba(232,122,122,0.45)" stroke="rgba(175,55,55,0.6)" stroke-width="0.9"/>
<circle cx="347.5" cy="314.3" r="3.5" fill="rgba(232,122,122,0.45)" stroke="rgba(175,55,55,0.6)" stroke-width="0.9"/>
<circle cx="358" cy="308.3" r="2.5" fill="rgba(232,122,122,0.45)" stroke="rgba(175,55,55,0.6)" stroke-width="0.9"/>
<circle cx="361.8" cy="316.6" r="3.5" fill="rgba(232,122,122,0.45)" stroke="rgba(175,55,55,0.6)" stroke-width="0.9"/>
<circle cx="322.5" cy="320.3" r="3.5" fill="rgba(232,122,122,0.45)" stroke="rgba(175,55,55,0.6)" stroke-width="0.9"/>
<circle cx="352" cy="321.5" r="3.5" fill="rgba(232,122,122,0.45)" stroke="rgba(175,55,55,0.6)" stroke-width="0.9"/>
<circle cx="353.3" cy="325.5" r="3" fill="rgba(232,122,122,0.45)" stroke="rgba(175,55,55,0.6)" stroke-width="0.9"/>
<circle cx="338.7" cy="316" r="3" fill="rgba(232,122,122,0.45)" stroke="rgba(175,55,55,0.6)" stroke-width="0.9"/>
<circle cx="329.3" cy="326.3" r="3" fill="rgba(232,122,122,0.45)" stroke="rgba(175,55,55,0.6)" stroke-width="0.9"/>
<circle cx="327.6" cy="329.7" r="3" fill="rgba(232,122,122,0.45)" stroke="rgba(175,55,55,0.6)" stroke-width="0.9"/>
<circle cx="321.6" cy="329.7" r="3" fill="rgba(232,122,122,0.45)" stroke="rgba(175,55,55,0.6)" stroke-width="0.9"/>
<circle cx="319.9" cy="334.9" r="3.5" fill="rgba(232,122,122,0.45)" stroke="rgba(175,55,55,0.6)" stroke-width="0.9"/>
<circle cx="343.9" cy="330.6" r="3.5" fill="rgba(232,122,122,0.45)" stroke="rgba(175,55,55,0.6)" stroke-width="0.9"/>
<circle cx="373.9" cy="340" r="2.5" fill="rgba(232,122,122,0.45)" stroke="rgba(175,55,55,0.6)" stroke-width="0.9"/>
<circle cx="372.1" cy="356" r="3.5" fill="rgba(232,122,122,0.45)" stroke="rgba(175,55,55,0.6)" stroke-width="0.9"/>
<circle cx="384.3" cy="317.3" r="2.5" fill="rgba(232,122,122,0.45)" stroke="rgba(175,55,55,0.6)" stroke-width="0.9"/>
<circle cx="406" cy="269.8" r="3" fill="rgba(232,122,122,0.45)" stroke="rgba(175,55,55,0.6)" stroke-width="0.9"/>
<circle cx="434.3" cy="271.5" r="3" fill="rgba(232,122,122,0.45)" stroke="rgba(175,55,55,0.6)" stroke-width="0.9"/>
<circle cx="393.7" cy="281.3" r="2.5" fill="rgba(232,122,122,0.45)" stroke="rgba(175,55,55,0.6)" stroke-width="0.9"/>
<circle cx="418.4" cy="282.2" r="3" fill="rgba(232,122,122,0.45)" stroke="rgba(175,55,55,0.6)" stroke-width="0.9"/>
<circle cx="404.3" cy="288.2" r="2.5" fill="rgba(232,122,122,0.45)" stroke="rgba(175,55,55,0.6)" stroke-width="0.9"/>
<circle cx="438.6" cy="286.4" r="3" fill="rgba(232,122,122,0.45)" stroke="rgba(175,55,55,0.6)" stroke-width="0.9"/>
<circle cx="391.4" cy="292.4" r="4.5" fill="rgba(232,122,122,0.45)" stroke="rgba(175,55,55,0.6)" stroke-width="0.9"/>
<circle cx="389.7" cy="294.2" r="3" fill="rgba(232,122,122,0.45)" stroke="rgba(175,55,55,0.6)" stroke-width="0.9"/>
<circle cx="370.9" cy="301.9" r="3" fill="rgba(232,122,122,0.45)" stroke="rgba(175,55,55,0.6)" stroke-width="0.9"/>
<circle cx="402.6" cy="298.4" r="2" fill="rgba(232,122,122,0.45)" stroke="rgba(175,55,55,0.6)" stroke-width="0.9"/>
<circle cx="396.6" cy="304.5" r="2.5" fill="rgba(232,122,122,0.45)" stroke="rgba(175,55,55,0.6)" stroke-width="0.9"/>
<circle cx="400.9" cy="304.5" r="2.5" fill="rgba(232,122,122,0.45)" stroke="rgba(175,55,55,0.6)" stroke-width="0.9"/>
<circle cx="409.5" cy="305.3" r="3.5" fill="rgba(232,122,122,0.45)" stroke="rgba(175,55,55,0.6)" stroke-width="0.9"/>
<circle cx="414.9" cy="305.3" r="3" fill="rgba(232,122,122,0.45)" stroke="rgba(175,55,55,0.6)" stroke-width="0.9"/>
<circle cx="427.5" cy="294.2" r="2.5" fill="rgba(232,122,122,0.45)" stroke="rgba(175,55,55,0.6)" stroke-width="0.9"/>
<circle cx="429.2" cy="306.2" r="3" fill="rgba(232,122,122,0.45)" stroke="rgba(175,55,55,0.6)" stroke-width="0.9"/>
<circle cx="395.4" cy="314.4" r="3.5" fill="rgba(232,122,122,0.45)" stroke="rgba(175,55,55,0.6)" stroke-width="0.9"/>
<circle cx="436" cy="324.7" r="3" fill="rgba(232,122,122,0.45)" stroke="rgba(175,55,55,0.6)" stroke-width="0.9"/>
<circle cx="333" cy="307" r="3" fill="rgba(232,122,122,0.45)" stroke="rgba(175,55,55,0.6)" stroke-width="0.9"/>
<circle cx="336" cy="306" r="3.5" fill="rgba(232,122,122,0.45)" stroke="rgba(175,55,55,0.6)" stroke-width="0.9"/>
<circle cx="338" cy="311" r="3" fill="rgba(232,122,122,0.45)" stroke="rgba(175,55,55,0.6)" stroke-width="0.9"/>
<circle cx="327" cy="323" r="3" fill="rgba(232,122,122,0.45)" stroke="rgba(175,55,55,0.6)" stroke-width="0.9"/>
<circle cx="328" cy="327" r="3.5" fill="rgba(232,122,122,0.45)" stroke="rgba(175,55,55,0.6)" stroke-width="0.9"/>
<circle cx="323" cy="333" r="3" fill="rgba(232,122,122,0.45)" stroke="rgba(175,55,55,0.6)" stroke-width="0.9"/>
<circle cx="326" cy="320" r="3" fill="rgba(232,122,122,0.45)" stroke="rgba(175,55,55,0.6)" stroke-width="0.9"/>
<circle cx="343.5" cy="313" r="3" fill="rgba(232,122,122,0.45)" stroke="rgba(175,55,55,0.6)" stroke-width="0.9"/>
<circle cx="346" cy="319" r="3.5" fill="rgba(232,122,122,0.45)" stroke="rgba(175,55,55,0.6)" stroke-width="0.9"/>
<circle cx="448.4" cy="282.8" r="3.5" fill="rgba(232,122,122,0.45)" stroke="rgba(175,55,55,0.6)" stroke-width="0.9"/>
<circle cx="474.8" cy="300.8" r="3.5" fill="rgba(232,122,122,0.45)" stroke="rgba(175,55,55,0.6)" stroke-width="0.9"/>
<circle cx="478.7" cy="298.1" r="3.5" fill="rgba(232,122,122,0.45)" stroke="rgba(175,55,55,0.6)" stroke-width="0.9"/>
<circle cx="505" cy="277.5" r="4" fill="rgba(232,122,122,0.45)" stroke="rgba(175,55,55,0.6)" stroke-width="0.9"/>
<path d="M320.70,335.80 C320.97,334.97 321.67,332.63 322.30,330.80 C322.93,328.97 323.63,326.50 324.50,324.80 C325.37,323.10 326.47,321.80 327.50,320.60 C328.53,319.40 329.18,318.62 330.70,317.60 C332.22,316.58 334.43,315.33 336.60,314.50 C338.77,313.67 340.97,313.25 343.70,312.60 C346.43,311.95 343.62,312.45 353.00,310.60 C362.38,308.75 385.50,304.23 400.00,301.50 C414.50,298.77 422.50,297.48 440.00,294.20 C457.50,290.92 494.17,283.87 505.00,281.80" fill="none" stroke="#1b3058" stroke-width="1.5"/>
</svg></body></html>
